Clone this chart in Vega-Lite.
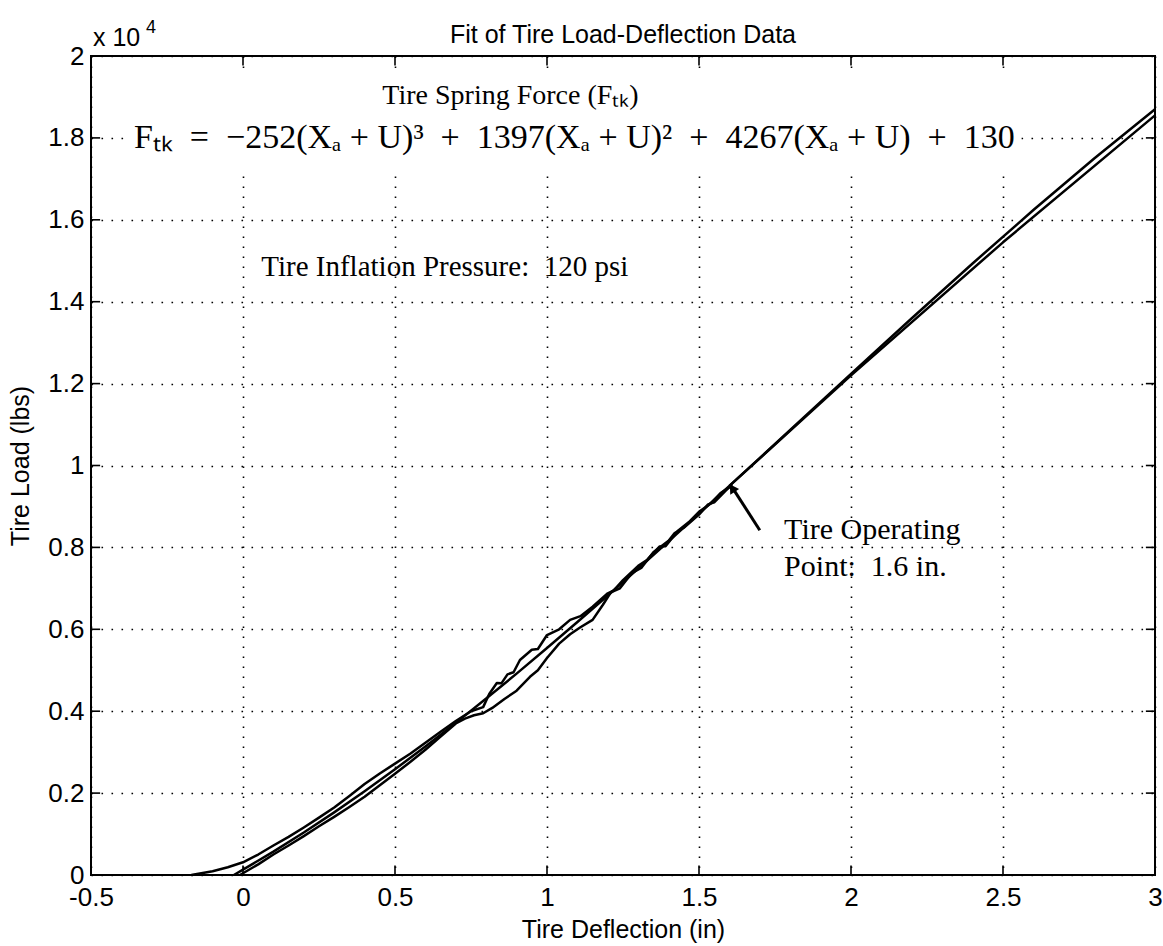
{
  "$schema": "https://vega.github.io/schema/vega-lite/v6.json",
  "width": 1064,
  "height": 819,
  "autosize": {"type": "none"},
  "padding": {"left": 91, "top": 56, "right": 8, "bottom": 71},
  "background": "white",
  "config": {
    "view": {"stroke": "black", "strokeWidth": 2},
    "axis": {"domain": false, "grid": true, "gridColor": "black", "gridDash": [1.6, 8.4], "gridWidth": 1.6, "gridOpacity": 1, "ticks": false, "labelFont": "Liberation Sans", "labelFontSize": 26, "labelColor": "black", "titleFont": "Liberation Sans", "titleFontSize": 25, "titleFontWeight": "normal", "titleColor": "black"}
  },
  "datasets": {
    "xt": [{"v": -0.5}, {"v": 0}, {"v": 0.5}, {"v": 1}, {"v": 1.5}, {"v": 2}, {"v": 2.5}, {"v": 3}],
    "yt": [{"v": 0}, {"v": 2000}, {"v": 4000}, {"v": 6000}, {"v": 8000}, {"v": 10000}, {"v": 12000}, {"v": 14000}, {"v": 16000}, {"v": 18000}, {"v": 20000}],
    "curves": [
      {"s": "fit", "i": 0, "x": -0.03, "y": 0},
      {"s": "fit", "i": 1, "x": 0, "y": 130},
      {"s": "fit", "i": 2, "x": 0.1, "y": 570},
      {"s": "fit", "i": 3, "x": 0.2, "y": 1037},
      {"s": "fit", "i": 4, "x": 0.3, "y": 1529},
      {"s": "fit", "i": 5, "x": 0.4, "y": 2044},
      {"s": "fit", "i": 6, "x": 0.5, "y": 2581},
      {"s": "fit", "i": 7, "x": 0.6, "y": 3139},
      {"s": "fit", "i": 8, "x": 0.7, "y": 3715},
      {"s": "fit", "i": 9, "x": 0.8, "y": 4309},
      {"s": "fit", "i": 10, "x": 0.9, "y": 4918},
      {"s": "fit", "i": 11, "x": 1.0, "y": 5542},
      {"s": "fit", "i": 12, "x": 1.1, "y": 6179},
      {"s": "fit", "i": 13, "x": 1.2, "y": 6827},
      {"s": "fit", "i": 14, "x": 1.3, "y": 7484},
      {"s": "fit", "i": 15, "x": 1.4, "y": 8150},
      {"s": "fit", "i": 16, "x": 1.5, "y": 8823},
      {"s": "fit", "i": 17, "x": 1.6, "y": 9501},
      {"s": "fit", "i": 18, "x": 1.8, "y": 10867},
      {"s": "fit", "i": 19, "x": 2.0, "y": 12236},
      {"s": "fit", "i": 20, "x": 2.2, "y": 13596},
      {"s": "fit", "i": 21, "x": 2.4, "y": 14934},
      {"s": "fit", "i": 22, "x": 2.6, "y": 16239},
      {"s": "fit", "i": 23, "x": 2.8, "y": 17498},
      {"s": "fit", "i": 24, "x": 3.0, "y": 18700},

      {"s": "linear", "i": 0, "x": 1.6, "y": 9501},
      {"s": "linear", "i": 1, "x": 2.0, "y": 12200},
      {"s": "linear", "i": 2, "x": 2.5, "y": 15450},
      {"s": "linear", "i": 3, "x": 3.0, "y": 18550},

      {"s": "up", "i": 0, "x": -0.17, "y": 0},
      {"s": "up", "i": 1, "x": -0.1, "y": 90},
      {"s": "up", "i": 2, "x": -0.05, "y": 190},
      {"s": "up", "i": 3, "x": 0.0, "y": 310},
      {"s": "up", "i": 4, "x": 0.05, "y": 500},
      {"s": "up", "i": 5, "x": 0.1, "y": 720},
      {"s": "up", "i": 6, "x": 0.15, "y": 930},
      {"s": "up", "i": 7, "x": 0.2, "y": 1160},
      {"s": "up", "i": 8, "x": 0.25, "y": 1400},
      {"s": "up", "i": 9, "x": 0.3, "y": 1650},
      {"s": "up", "i": 10, "x": 0.35, "y": 1930},
      {"s": "up", "i": 11, "x": 0.4, "y": 2220},
      {"s": "up", "i": 12, "x": 0.45, "y": 2480},
      {"s": "up", "i": 13, "x": 0.5, "y": 2720},
      {"s": "up", "i": 14, "x": 0.55, "y": 2960},
      {"s": "up", "i": 15, "x": 0.6, "y": 3230},
      {"s": "up", "i": 16, "x": 0.65, "y": 3500},
      {"s": "up", "i": 17, "x": 0.7, "y": 3760},
      {"s": "up", "i": 18, "x": 0.75, "y": 4000},
      {"s": "up", "i": 19, "x": 0.79, "y": 4100},
      {"s": "up", "i": 20, "x": 0.81, "y": 4420},
      {"s": "up", "i": 21, "x": 0.835, "y": 4690},
      {"s": "up", "i": 22, "x": 0.85, "y": 4680},
      {"s": "up", "i": 23, "x": 0.87, "y": 4900},
      {"s": "up", "i": 24, "x": 0.89, "y": 4950},
      {"s": "up", "i": 25, "x": 0.911, "y": 5250},
      {"s": "up", "i": 26, "x": 0.95, "y": 5500},
      {"s": "up", "i": 27, "x": 0.97, "y": 5520},
      {"s": "up", "i": 28, "x": 1.0, "y": 5860},
      {"s": "up", "i": 29, "x": 1.04, "y": 6000},
      {"s": "up", "i": 30, "x": 1.076, "y": 6230},
      {"s": "up", "i": 31, "x": 1.11, "y": 6320},
      {"s": "up", "i": 32, "x": 1.15, "y": 6550},
      {"s": "up", "i": 33, "x": 1.2, "y": 6880},
      {"s": "up", "i": 34, "x": 1.22, "y": 6950},
      {"s": "up", "i": 35, "x": 1.25, "y": 7200},
      {"s": "up", "i": 36, "x": 1.3, "y": 7550},
      {"s": "up", "i": 37, "x": 1.33, "y": 7700},
      {"s": "up", "i": 38, "x": 1.37, "y": 8020},
      {"s": "up", "i": 39, "x": 1.39, "y": 8030},
      {"s": "up", "i": 40, "x": 1.43, "y": 8400},
      {"s": "up", "i": 41, "x": 1.47, "y": 8640},
      {"s": "up", "i": 42, "x": 1.5, "y": 8870},
      {"s": "up", "i": 43, "x": 1.54, "y": 9080},
      {"s": "up", "i": 44, "x": 1.57, "y": 9320},
      {"s": "up", "i": 45, "x": 1.61, "y": 9520},

      {"s": "down", "i": 0, "x": -0.01, "y": 0},
      {"s": "down", "i": 1, "x": 0.05, "y": 260},
      {"s": "down", "i": 2, "x": 0.1, "y": 500},
      {"s": "down", "i": 3, "x": 0.15, "y": 720},
      {"s": "down", "i": 4, "x": 0.2, "y": 950},
      {"s": "down", "i": 5, "x": 0.25, "y": 1190},
      {"s": "down", "i": 6, "x": 0.3, "y": 1420},
      {"s": "down", "i": 7, "x": 0.35, "y": 1660},
      {"s": "down", "i": 8, "x": 0.4, "y": 1910},
      {"s": "down", "i": 9, "x": 0.45, "y": 2190},
      {"s": "down", "i": 10, "x": 0.5, "y": 2470},
      {"s": "down", "i": 11, "x": 0.55, "y": 2760},
      {"s": "down", "i": 12, "x": 0.6, "y": 3060},
      {"s": "down", "i": 13, "x": 0.65, "y": 3380},
      {"s": "down", "i": 14, "x": 0.7, "y": 3700},
      {"s": "down", "i": 15, "x": 0.73, "y": 3820},
      {"s": "down", "i": 16, "x": 0.76, "y": 3900},
      {"s": "down", "i": 17, "x": 0.79, "y": 3950},
      {"s": "down", "i": 18, "x": 0.82, "y": 4080},
      {"s": "down", "i": 19, "x": 0.86, "y": 4300},
      {"s": "down", "i": 20, "x": 0.9, "y": 4500},
      {"s": "down", "i": 21, "x": 0.944, "y": 4840},
      {"s": "down", "i": 22, "x": 0.97, "y": 5000},
      {"s": "down", "i": 23, "x": 1.0, "y": 5300},
      {"s": "down", "i": 24, "x": 1.04, "y": 5650},
      {"s": "down", "i": 25, "x": 1.076, "y": 5880},
      {"s": "down", "i": 26, "x": 1.11, "y": 6050},
      {"s": "down", "i": 27, "x": 1.15, "y": 6230},
      {"s": "down", "i": 28, "x": 1.184, "y": 6600},
      {"s": "down", "i": 29, "x": 1.21, "y": 6900},
      {"s": "down", "i": 30, "x": 1.24, "y": 7000},
      {"s": "down", "i": 31, "x": 1.28, "y": 7380},
      {"s": "down", "i": 32, "x": 1.31, "y": 7500},
      {"s": "down", "i": 33, "x": 1.35, "y": 7880},
      {"s": "down", "i": 34, "x": 1.4, "y": 8160},
      {"s": "down", "i": 35, "x": 1.42, "y": 8350},
      {"s": "down", "i": 36, "x": 1.45, "y": 8480},
      {"s": "down", "i": 37, "x": 1.5, "y": 8800},
      {"s": "down", "i": 38, "x": 1.53, "y": 9050},
      {"s": "down", "i": 39, "x": 1.55, "y": 9100},
      {"s": "down", "i": 40, "x": 1.6, "y": 9480}
    ]
  },
  "layer": [
    {
      "data": {"name": "curves"},
      "mark": {"type": "line", "color": "black", "strokeWidth": 2.5, "strokeJoin": "round"},
      "encoding": {
        "x": {"field": "x", "type": "quantitative", "scale": {"domain": [-0.5, 3], "nice": false, "zero": false}, "axis": {"values": [-0.5, 0, 0.5, 1, 1.5, 2, 2.5, 3], "labelExpr": "replace(format(datum.value, '~g'), '−', '-')", "title": "Tire Deflection (in)", "labelPadding": 9, "titlePadding": 7, "labelFlush": false, "labelOverlap": false}},
        "y": {"field": "y", "type": "quantitative", "scale": {"domain": [0, 20000], "nice": false}, "axis": {"values": [0, 2000, 4000, 6000, 8000, 10000, 12000, 14000, 16000, 18000, 20000], "labelExpr": "format(datum.value / 10000, '~g')", "title": "Tire Load (lbs)", "labelPadding": 7, "titlePadding": 14, "labelFlush": false, "labelOverlap": false}},
        "detail": {"field": "s"},
        "order": {"field": "i"}
      }
    },
    {
      "data": {"name": "xt"},
      "mark": {"type": "rule", "color": "black", "strokeWidth": 1.6},
      "encoding": {"x": {"field": "v", "type": "quantitative"}, "y": {"datum": 0}, "y2": {"datum": 230}}
    },
    {
      "data": {"name": "xt"},
      "mark": {"type": "rule", "color": "black", "strokeWidth": 1.6},
      "encoding": {"x": {"field": "v", "type": "quantitative"}, "y": {"datum": 19770}, "y2": {"datum": 20000}}
    },
    {
      "data": {"name": "yt"},
      "mark": {"type": "rule", "color": "black", "strokeWidth": 1.6},
      "encoding": {"y": {"field": "v", "type": "quantitative"}, "x": {"datum": -0.5}, "x2": {"datum": -0.47}}
    },
    {
      "data": {"name": "yt"},
      "mark": {"type": "rule", "color": "black", "strokeWidth": 1.6},
      "encoding": {"y": {"field": "v", "type": "quantitative"}, "x": {"datum": 2.97}, "x2": {"datum": 3}}
    },
    {
      "data": {"values": [{"a": 1}]},
      "mark": {"type": "rect", "color": "white", "opacity": 1},
      "encoding": {"x": {"datum": -0.37}, "x2": {"datum": 2.56}, "y": {"datum": 17200}, "y2": {"datum": 19550}}
    },
    {
      "data": {"values": [{"a": 1}]},
      "mark": {"type": "text", "font": "Liberation Sans", "fontSize": 25, "align": "center", "baseline": "alphabetic", "dy": -13},
      "encoding": {"x": {"datum": 1.25}, "y": {"datum": 20000}, "text": {"value": "Fit of Tire Load-Deflection Data"}}
    },
    {
      "data": {"values": [{"a": 1}]},
      "mark": {"type": "text", "font": "Liberation Sans", "fontSize": 25, "align": "left", "baseline": "alphabetic", "dy": -10, "dx": 2},
      "encoding": {"x": {"datum": -0.5}, "y": {"datum": 20000}, "text": {"value": "x 10"}}
    },
    {
      "data": {"values": [{"a": 1}]},
      "mark": {"type": "text", "font": "Liberation Sans", "fontSize": 18, "align": "left", "baseline": "alphabetic", "dy": -23, "dx": 55},
      "encoding": {"x": {"datum": -0.5}, "y": {"datum": 20000}, "text": {"value": "4"}}
    },
    {
      "data": {"values": [{"a": 1}]},
      "mark": {"type": "text", "font": "Liberation Serif", "fontSize": 28, "align": "center", "baseline": "middle"},
      "encoding": {"x": {"datum": 0.88}, "y": {"datum": 19030}, "text": {"value": "Tire Spring Force (Fₜₖ)"}}
    },
    {
      "data": {"values": [{"a": 1}]},
      "mark": {"type": "text", "font": "Liberation Serif", "fontSize": 34, "align": "center", "baseline": "middle"},
      "encoding": {"x": {"datum": 1.09}, "y": {"datum": 18000}, "text": {"value": "Fₜₖ\u2002=\u2002−252(Xₐ + U)³\u2002+\u20021397(Xₐ + U)²\u2002+\u20024267(Xₐ + U)\u2002+\u2002130"}}
    },
    {
      "data": {"values": [{"a": 1}]},
      "mark": {"type": "text", "font": "Liberation Serif", "fontSize": 29, "align": "left", "baseline": "middle"},
      "encoding": {"x": {"datum": 0.06}, "y": {"datum": 14850}, "text": {"value": "Tire Inflation Pressure:\u00a0\u00a0120 psi"}}
    },
    {
      "data": {"values": [{"t": "Tire Operating", "y": 8420}, {"t": "Point:\u00a0\u00a01.6 in.", "y": 7520}]},
      "mark": {"type": "text", "font": "Liberation Serif", "fontSize": 30, "align": "left", "baseline": "middle"},
      "encoding": {"x": {"datum": 1.78}, "y": {"field": "y", "type": "quantitative"}, "text": {"field": "t"}}
    },
    {
      "data": {"values": [{"x": 1.7, "y": 8420, "x2": 1.615, "y2": 9400}]},
      "mark": {"type": "rule", "color": "black", "strokeWidth": 3},
      "encoding": {"x": {"field": "x", "type": "quantitative"}, "y": {"field": "y", "type": "quantitative"}, "x2": {"field": "x2"}, "y2": {"field": "y2"}}
    },
    {
      "data": {"values": [{"x": 1.612, "y": 9420}]},
      "mark": {"type": "point", "shape": "triangle", "filled": true, "color": "black", "size": 110, "opacity": 1, "angle": -33},
      "encoding": {"x": {"field": "x", "type": "quantitative"}, "y": {"field": "y", "type": "quantitative"}}
    }
  ]
}
